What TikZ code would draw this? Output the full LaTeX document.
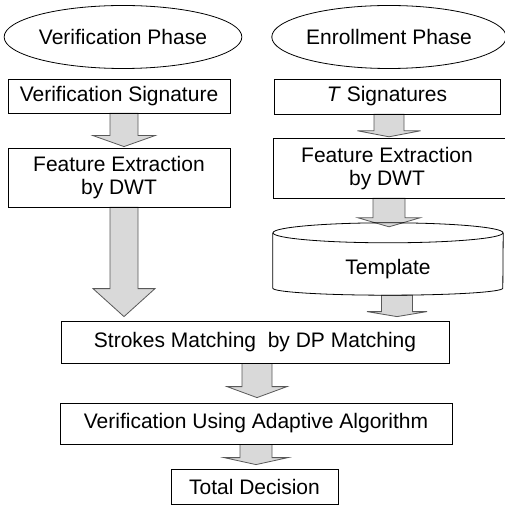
\documentclass[tikz,border=0pt]{standalone}
\usepackage{fontspec}
\setmainfont{Liberation Sans}
\usetikzlibrary{shapes.geometric,calc}
\pgfdeclarelayer{bg}
\pgfdeclarelayer{paper}
\pgfsetlayers{paper,bg,main}
\newcommand\blockarrow[7]{%
  \begin{pgfonlayer}{bg}
  \path[barrowstyle] let \p1=(#1.south), \p2=(#2.north) in
    ({#3pt-#4pt},\y1) -- ({#3pt+#4pt},\y1)
    -- ({#3pt+#4pt},{\y2+(#7pt)+(#6pt)}) -- ({#3pt+#5pt},{\y2+(#7pt)+(#6pt)})
    -- (#3pt,{\y2+(#7pt)})
    -- ({#3pt-#5pt},{\y2+(#7pt)+(#6pt)}) -- ({#3pt-#4pt},{\y2+(#7pt)+(#6pt)}) -- cycle;
  \end{pgfonlayer}}
\begin{document}
\begin{tikzpicture}[x=1pt,y=-1pt,
  txt/.style={font=\fontsize{21}{22.5}\selectfont, align=center, inner sep=0pt},
  box/.style={txt, draw=black, line width=0.8pt, rectangle},
  phase/.style={txt, draw=black, line width=0.8pt, ellipse},
  cyl/.style={draw=black, line width=0.8pt},
  barrowstyle/.style={fill=black!15, draw=black!65, line width=0.8pt, line join=miter}]
\useasboundingbox (0,0) rectangle (504,510);
\begin{pgfonlayer}{paper}
\fill[white] (0,0) rectangle (504,510);
\end{pgfonlayer}

\node[phase, minimum width=200pt, minimum height=63pt] (vphase) at (123,37) {Verification Phase};
\node[phase, minimum width=198pt, minimum height=63pt] (ephase) at (389,37) {Enrollment Phase};

\node[box, minimum width=222pt, minimum height=34pt] (vsig) at (119,96) {Verification Signature};
\node[box, minimum width=222pt, minimum height=59pt] (fe1) at (119,177.5) {Feature Extraction\\by DWT};

\node[box, minimum width=226pt, minimum height=35pt] (tsig) at (387,96.5) {\textit{T} Signatures};
\node[txt, minimum width=226pt, minimum height=59pt] (fe2) at (387,168.5) {Feature Extraction\\by DWT};
\draw[cyl] (fe2.north west) rectangle ([xshift=8pt]fe2.south east);

\node[txt, minimum width=230pt, minimum height=52pt] (tmpl) at (388,269) {Template};
\draw[cyl] ($(tmpl.north)+(0,-10)$) ellipse [x radius=115pt, y radius=10pt];
\draw[cyl] ($(tmpl.north west)+(0,-10)$) -- ($(tmpl.south west)+(0,-7)$)
  arc[start angle=180, end angle=360, x radius=115pt, y radius=7pt]
  -- ($(tmpl.north east)+(0,-10)$);

\node[box, minimum width=388pt, minimum height=42pt] (sm) at (255,342) {Strokes Matching\ \ by DP Matching};
\node[box, minimum width=392pt, minimum height=41pt] (vua) at (256,423.5) {Verification Using Adaptive Algorithm};
\node[box, minimum width=167pt, minimum height=35pt] (td) at (254.5,486.5) {Total Decision};

\blockarrow{vsig}{fe1}{124}{14}{31}{11}{1}
\blockarrow{fe1}{sm}{124}{14}{31}{28}{4}
\blockarrow{tsig}{fe2}{389}{15}{31.5}{6}{2}
\blockarrow{fe2}{tmpl}{389}{16}{31}{9}{16}
\blockarrow{tmpl}{sm}{397}{15.5}{30}{5}{4}
\blockarrow{sm}{vua}{257}{15}{30}{11}{5}
\blockarrow{vua}{td}{256}{16}{32}{7}{4}
\end{tikzpicture}
\end{document}
